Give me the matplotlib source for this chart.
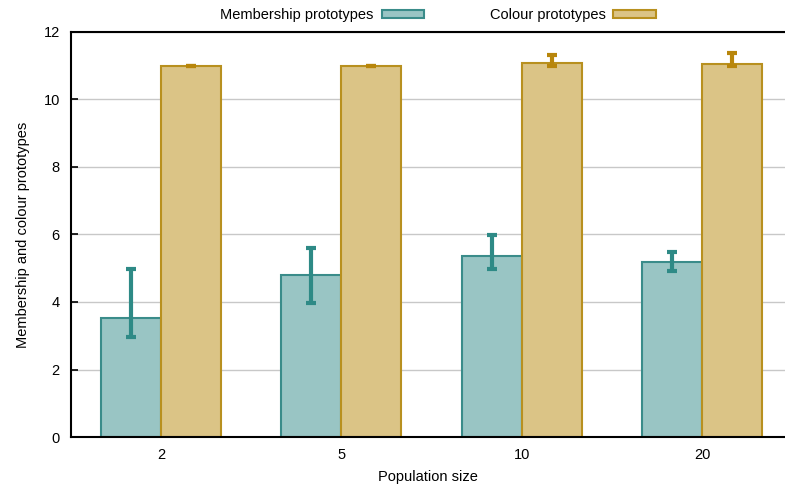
import numpy as np
import matplotlib.pyplot as plt

plt.rcParams['font.family'] = ['Liberation Sans', 'DejaVu Sans']

population_sizes = ['2', '5', '10', '20']
membership_mean = [3.53, 4.79, 5.36, 5.19]
membership_low = [2.97, 3.98, 4.98, 4.93]
membership_high = [4.98, 5.59, 5.99, 5.48]
colour_mean = [11.0, 11.0, 11.07, 11.05]
colour_low = [10.995, 10.995, 11.0, 10.99]
colour_high = [11.005, 11.005, 11.32, 11.37]

teal_fill, teal_edge = '#99c5c4', '#3a8c8a'
gold_fill, gold_edge = '#dbc486', '#b8901f'

fig = plt.figure(figsize=(7.85, 4.84), dpi=100)
ax = fig.add_axes([0.0904, 0.0971, 0.9096, 0.8368])

x = np.arange(len(population_sizes))
w = 0.333

m_err = [np.subtract(membership_mean, membership_low), np.subtract(membership_high, membership_mean)]
c_err = [np.subtract(colour_mean, colour_low), np.subtract(colour_high, colour_mean)]

ax.bar(x - w / 2, membership_mean, w, color=teal_fill, edgecolor=teal_edge, linewidth=1.5,
       label='Membership prototypes', zorder=2)
ax.bar(x + w / 2, colour_mean, w, color=gold_fill, edgecolor=gold_edge, linewidth=1.5,
       label='Colour prototypes', zorder=2)

for xs, ys, err, col in [(x - w / 2, membership_mean, m_err, '#2e8a86'),
                         (x + w / 2, colour_mean, c_err, '#b8860b')]:
    eb = ax.errorbar(xs, ys, yerr=err, fmt='none', ecolor=col, elinewidth=3,
                     capsize=3.5, capthick=3, zorder=3)
    for ln in eb[2]:
        ln.set_capstyle('round')

ax.set_ylim(0, 12)
ax.set_xlim(-0.5, 3.46)
ax.set_yticks(range(0, 13, 2))
ax.set_xticks(x)
ax.set_xticklabels(population_sizes)
ax.yaxis.grid(True, color='#c8c8c8', linewidth=1.0, zorder=0)
ax.set_axisbelow(True)
ax.tick_params(axis='y', direction='in', length=5, width=1.2, labelsize=10.5, pad=8)
ax.tick_params(axis='x', length=0, labelsize=10.5, pad=8)
for s in ['left', 'bottom', 'top']:
    ax.spines[s].set_linewidth(1.5)
ax.spines['right'].set_visible(False)

ax.set_xlabel('Population size', fontsize=10.5, labelpad=6)
ax.set_ylabel('Membership and colour prototypes', fontsize=10.5, labelpad=10)

ax.legend(loc='lower center', bbox_to_anchor=(0.514, 1.01), ncol=2, frameon=False,
          markerfirst=False, handlelength=2.9, handleheight=0.55, handletextpad=0.55,
          columnspacing=4.5, fontsize=10.5, borderaxespad=0)

fig.savefig('out.png', dpi=100)
